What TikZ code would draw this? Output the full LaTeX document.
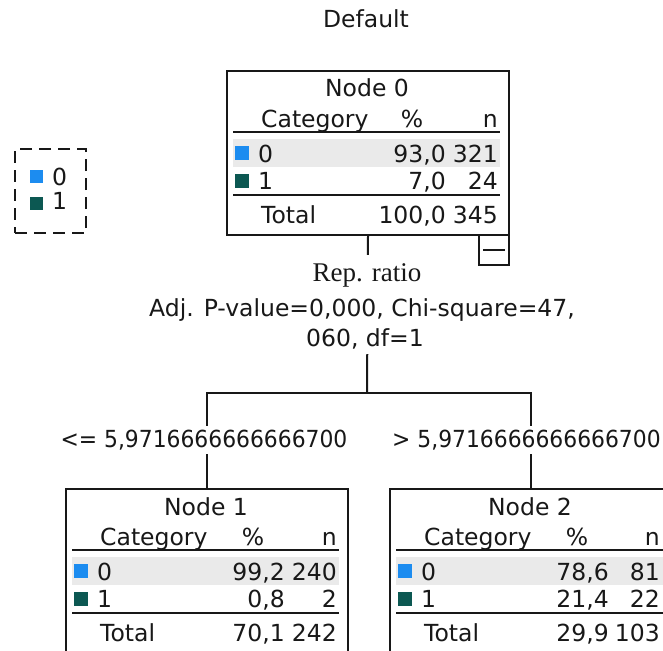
\documentclass[tikz,border=0pt]{standalone}
\usepackage{fontspec}
\setmainfont{DejaVu Sans}
\newfontfamily\serifface{Liberation Serif}
\usetikzlibrary{backgrounds}

\definecolor{catblue}{RGB}{28,140,240}
\definecolor{catteal}{RGB}{12,88,82}
\definecolor{bandgray}{RGB}{234,234,234}
\definecolor{ink}{RGB}{24,24,24}

\tikzset{
  txt/.style={inner sep=0pt, anchor=base, text=ink, font=\fontsize{23.5}{28}\selectfont},
  txtl/.style={txt, anchor=base west},
  txtr/.style={txt, anchor=base east},
  treebox/.style={draw=ink, line width=2pt, fill=white, anchor=north west,
    minimum width=282pt, inner sep=0pt},
  rule/.style={draw=ink, line width=2pt},
  link/.style={draw=ink, line width=2pt},
  swatch/.style={inner sep=0pt, minimum size=14pt, anchor=north west},
  splitlabel/.style={txt, fill=white, inner xsep=2pt, inner ysep=5pt},
  threshold/.style={splitlabel, inner ysep=4pt},
}
% branch thresholds are set slightly narrower
\newcommand\narrow[1]{\scalebox{0.93}[1]{#1}}

% column positions of a category table: centre of "%", right edge of %, right edge of n
\newcommand\setcols[3]{\def\pctC{#1}\def\pctR{#2}\def\nR{#3}}
% #1 name, #2 title, #3 box height, #4/#5 row 0, #6/#7 row 1, #8/#9 total
\newcommand\cattable[9]{%
  \node[treebox, minimum height=#3pt] (#1) at (0,0) {};
  \fill[bandgray] (7,69) rectangle (274,97);
  \node[txt]  (#1-title) at (141,27) {#2};
  \node[txtl] (#1-cat)   at (35,57) {Category};
  \node[txt]  (#1-pct)   at (\pctC,57) {\%};
  \node[txtr] (#1-n)     at (\nR,57) {n};
  \draw[rule] (7,62) -- (274,62);
  \node[swatch, fill=catblue] (#1-sw0) at (9,76) {};
  \node[txtl] (#1-c0) at (32,92) {0};
  \node[txtr] (#1-p0) at (\pctR,92) {#4};
  \node[txtr] (#1-n0) at (\nR,92) {#5};
  \node[swatch, fill=catteal] (#1-sw1) at (9,104) {};
  \node[txtl] (#1-c1) at (32,119) {1};
  \node[txtr] (#1-p1) at (\pctR,119) {#6};
  \node[txtr] (#1-n1) at (\nR,119) {#7};
  \draw[rule] (7,125) -- (274,125);
  \node[txtl] (#1-tot) at (35,153) {Total};
  \node[txtr] (#1-pt)  at (\pctR,153) {#8};
  \node[txtr] (#1-nt)  at (\nR,153) {#9};
}

\begin{document}
\begin{tikzpicture}[x=1pt,y=-1pt]
  \path[use as bounding box, clip] (0,0) rectangle (663,650);

  % title
  \node[txt] (title) at (366,28) {Default};

  % legend
  \node[draw=ink, line width=2pt, dash pattern=on 12pt off 7pt, anchor=north west,
        minimum width=71pt, minimum height=84pt, inner sep=0pt] (legend) at (14,148) {};
  \node[swatch, minimum size=13pt, fill=catblue] (leg0) at (30,170) {};
  \node[txtl] (leg0t) at (52,185) {0};
  \node[swatch, minimum size=13pt, fill=catteal] (leg1) at (30,197) {};
  \node[txtl] (leg1t) at (52,209) {1};

  % root node
  \begin{scope}[shift={(226,70)}]
    \setcols{186}{220}{272}
    \cattable{n0}{Node 0}{164}{93,0}{321}{7,0}{24}{100,0}{345}
  \end{scope}
  \node[draw=ink, line width=2pt, anchor=north west, minimum width=30pt,
        minimum height=30pt, inner sep=0pt] (collapse) at (478,234) {};
  \draw[rule] ([xshift=5pt]collapse.west) -- ([xshift=-5pt]collapse.east);

  % split description
  \node[splitlabel, inner ysep=8pt, font=\serifface\fontsize{27}{30}\selectfont] (svar) at (367,281) {Rep. ratio};
  \node[splitlabel] (sstat) at (362,316) {Adj. P-value=0,000, Chi-square=47,};
  \node[splitlabel] (sdf) at (365,346) {060, df=1};

  % child nodes
  \begin{scope}[shift={(65,488)}]
    \setcols{188}{220}{272}
    \cattable{n1}{Node 1}{190}{99,2}{240}{0,8}{2}{70,1}{242}
  \end{scope}
  \begin{scope}[shift={(389,488)}]
    \setcols{188}{220}{271}
    \cattable{n2}{Node 2}{190}{78,6}{81}{21,4}{22}{29,9}{103}
  \end{scope}

  % branch labels
  \node[threshold] (le) at (204,447) {\narrow{<= 5,9716666666666700}};
  \node[threshold, anchor=base west] (gt) at (390,447) {\narrow{> 5,9716666666666700}};

  % connectors
  \coordinate (fork) at (367,393);
  \begin{pgfonlayer}{background}
    \draw[link] (n0.south) -- (fork);
    \draw[link] (n1.north) |- (fork) -| (n2.north);
  \end{pgfonlayer}
\end{tikzpicture}
\end{document}
